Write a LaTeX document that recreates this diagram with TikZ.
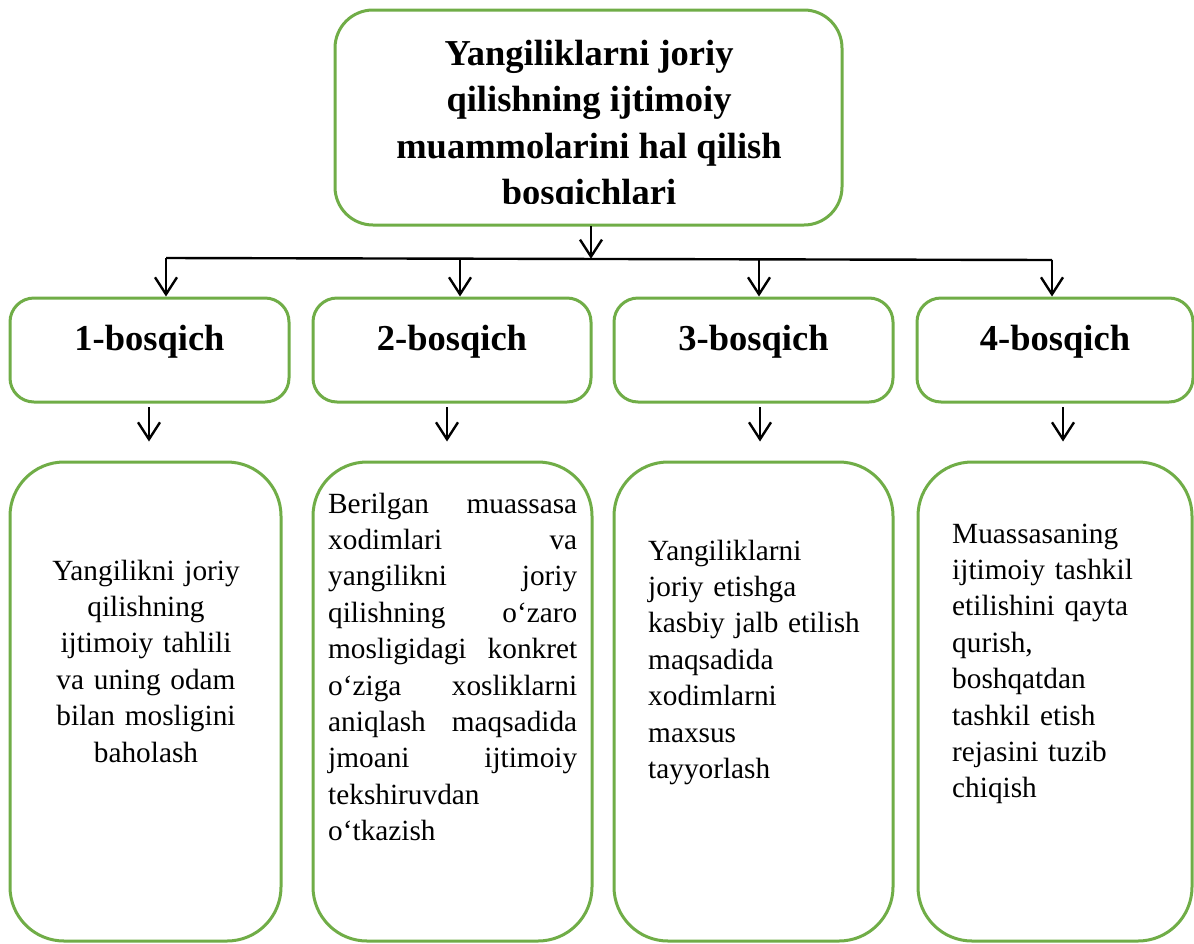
\documentclass[tikz,border=0pt]{standalone}
\usepackage{fontspec}
\setmainfont{Liberation Serif}
\usetikzlibrary{arrows.meta}
\definecolor{boxgreen}{HTML}{70AD47}
\begin{document}
\begin{tikzpicture}[x=1pt,y=-1pt,
  gbox/.style={draw=boxgreen, line width=3pt, rounded corners=#1, inner sep=0pt, fill=white},
  conn/.style={line width=2.4pt, black},
  arr/.style={line width=2.4pt, black, -{Straight Barb[length=17pt,width=22pt]}},
  stagetext/.style={font=\fontsize{36.5}{44}\selectfont\bfseries, text height=20pt, text depth=20pt},
  bodytext/.style={font=\fontsize{29.3}{36.4}\selectfont, inner sep=0pt},
]
\useasboundingbox (0,0) rectangle (1194,943);
% main box
\node[gbox=38pt, minimum width=507pt, minimum height=215pt] (m) at (588.5,117.5) {};
\begin{scope}
  \clip (335,10) rectangle (842,203);
  \node[inner sep=0pt, anchor=north, align=center, font=\fontsize{36.5}{46.5}\selectfont\bfseries] (title) at (589,32.4)
    {\strut Yangiliklarni joriy\\ qilishning ijtimoiy\\ muammolarini hal qilish\\ bosqichlari\strut};
\end{scope}
% stage boxes
\node[gbox=24pt, stagetext, minimum width=279pt, minimum height=104pt] (s1) at (149.5,350) {1-bosqich};
\node[gbox=24pt, stagetext, minimum width=278pt, minimum height=104pt] (s2) at (452,350) {2-bosqich};
\node[gbox=24pt, stagetext, minimum width=279pt, minimum height=104pt] (s3) at (753.5,350) {3-bosqich};
\node[gbox=24pt, stagetext, minimum width=276pt, minimum height=104pt] (s4) at (1055,350) {4-bosqich};
% bottom boxes
\node[gbox=54pt, minimum width=271pt, minimum height=479pt] (b1) at (145.5,701.5) {};
\node[gbox=54pt, minimum width=279pt, minimum height=479pt] (b2) at (452.5,701.5) {};
\node[gbox=54pt, minimum width=279pt, minimum height=479pt] (b3) at (753.5,701.5) {};
\node[gbox=54pt, minimum width=274pt, minimum height=479pt] (b4) at (1055,701.5) {};
% body texts
\node[bodytext, anchor=north, text width=262pt, align=center] (x1) at (146,554.5)
  {\strut Yangilikni joriy\\ qilishning\\ ijtimoiy tahlili\\ va uning odam\\ bilan mosligini\\ baholash\strut};
\node[bodytext, anchor=north west, text width=249pt, align=left] (x2) at (328,487.5)
  {\strut Berilgan\hfill muassasa\\ xodimlari\hfill va\\ yangilikni\hfill joriy\\ qilishning\hfill o‘zaro\\ mosligidagi\hfill konkret\\ o‘ziga\hfill xosliklarni\\ aniqlash\hfill maqsadida\\ jmoani\hfill ijtimoiy\\ tekshiruvdan\\ o‘tkazish\strut};
\node[bodytext, anchor=north west, text width=236pt, align=left] (x3) at (648,534.5)
  {\strut Yangiliklarni\\ joriy etishga\\ kasbiy jalb etilish\\ maqsadida\\ xodimlarni\\ maxsus\\ tayyorlash\strut};
\node[bodytext, anchor=north west, text width=232pt, align=left] (x4) at (952,517.5)
  {\strut Muassasaning\\ ijtimoiy tashkil\\ etilishini qayta\\ qurish,\\ boshqatdan\\ tashkil etish\\ rejasini tuzib\\ chiqish\strut};
% connectors
\coordinate (mt) at (591,226);
\coordinate (mj) at (591,258.8);
\coordinate (hl) at (166,258);
\coordinate (j2) at (460,258.7);
\coordinate (j3) at (759,259.3);
\coordinate (hr) at (1052,260);
\draw[conn] (hl) -- (hr);
\draw[arr] (mt) -- (mj);
\draw[arr] (hl) -- (hl |- s1.north);
\draw[arr] (j2) -- (j2 |- s2.north);
\draw[arr] (j3) -- (j3 |- s3.north);
\draw[arr] (hr) -- (hr |- s4.north);
\coordinate (d1) at (149,407);
\coordinate (d2) at (447,407);
\coordinate (d3) at (760,407);
\coordinate (d4) at (1063,407);
\draw[arr, shorten >=19pt] (d1) -- (d1 |- b1.north);
\draw[arr, shorten >=19pt] (d2) -- (d2 |- b2.north);
\draw[arr, shorten >=19pt] (d3) -- (d3 |- b3.north);
\draw[arr, shorten >=19pt] (d4) -- (d4 |- b4.north);
\end{tikzpicture}
\end{document}
